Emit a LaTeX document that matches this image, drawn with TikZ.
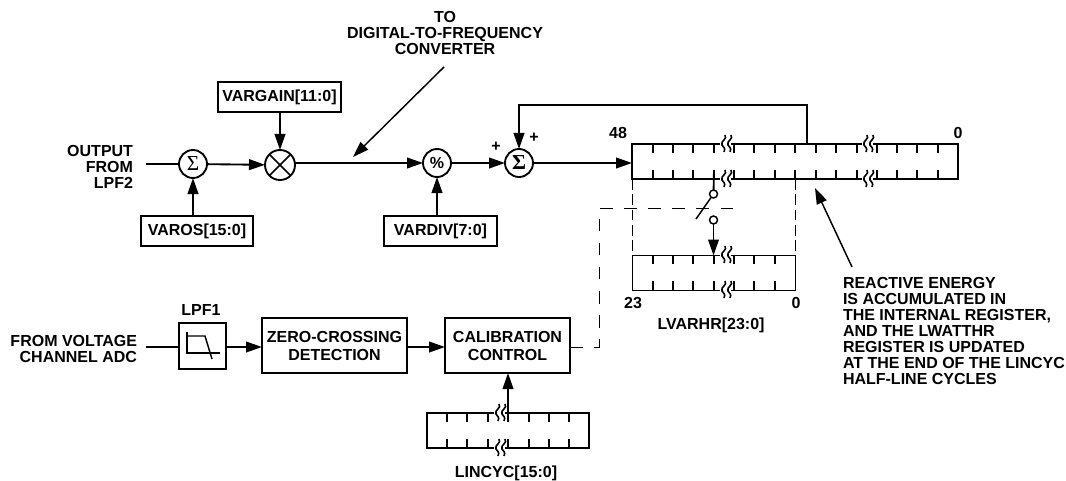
\documentclass[tikz,border=0pt]{standalone}
\usepackage{fontspec}
\setmainfont{Liberation Sans}
\newfontfamily\sumfont{Liberation Serif}
\usepackage{xcolor}
\usetikzlibrary{arrows.meta,calc}

\tikzset{
    lab/.style={inner sep=0pt, outer sep=0pt, font=\fontsize{12}{12}\selectfont\bfseries},
    wire/.style={line width=1.4pt},
    sig/.style={wire, -{Triangle[length=12pt,width=8pt]}},
    ctl/.style={line width=0.75pt, dash pattern=on 9.5pt off 8.6pt},
    sidedash/.style={line width=1.1pt, dash pattern=on 8pt off 3.5pt},
    box/.style={draw, line width=1.4pt, inner sep=0pt, outer sep=0pt, align=center,
        font=\fontsize{12}{13.5}\selectfont\bfseries},
    op/.style={circle, draw, line width=1.4pt, inner sep=0pt, outer sep=0pt, minimum size=21pt},
    contact/.style={circle, draw, line width=1.1pt, fill=white, inner sep=0pt, outer sep=0pt, minimum size=6pt},
    reg/.style={draw, line width=1.4pt, inner sep=0pt, outer sep=0pt},
    squig/.pic={
        \fill[white] (-4,-3) rectangle (7,3);
        \foreach \s in {0,6}
            \draw[line width=1.2pt] (\s+1,-9) .. controls (\s+4,-5) and (\s-4,-3) .. (\s-2,1)
                .. controls (\s-1,3) and (\s+2,4) .. (\s,8);
    }
}

\begin{document}
\begin{tikzpicture}[x=0.75pt, y=-0.75pt]
\useasboundingbox (0,0) rectangle (1066,481);

% top row
\node[lab, align=right, anchor=east] (outlab) at (133,166.5) {OUTPUT\\FROM\\LPF2};
\coordinate (outend) at (146,164);
\node[op, font=\fontsize{16}{16}\selectfont\sumfont] (suma) at (193,164) {Σ};
\node[op, minimum size=22.5pt] (mult) at (280,165) {};
\node[box, minimum width=92pt, minimum height=22.5pt] (vargain) at (279.5,97) {VARGAIN[11:0]};
\node[box, minimum width=84pt, minimum height=22.5pt] (varos) at (197,231) {VAROS[15:0]};
\node[op, font=\fontsize{12}{12}\selectfont\bfseries] (pct) at (437,163) {\%};
\node[box, minimum width=85pt, minimum height=22.5pt] (vardiv) at (440.5,231) {VARDIV[7:0]};
\node[op, font=\fontsize{16}{16}\selectfont\sumfont\bfseries] (sumb) at (519,163) {Σ};
\node[lab] (plusa) at (496,147) {+};
\node[lab] (plusb) at (534,138) {+};
\node[lab, align=center] (tolab) at (445,33) {TO\\DIGITAL-TO-FREQUENCY\\CONVERTER};
\coordinate (totail) at (444,67);
\coordinate (totip) at (353,157);

% internal register
\node[reg, minimum width=244.5pt, minimum height=26.25pt] (acc) at (795,161.5) {};
\node[lab] (msb) at (618,133) {48};
\node[lab] (lsb) at (958,133) {0};
\foreach \x in {653,673,693,714,734,754,775,795,816,836,857,877,897,917,938} {
    \draw[wire] (\x,144) -- (\x,153);
    \draw[wire] (\x,170) -- (\x,179);
}
\pic at (724,144) {squig};
\pic at (724,179) {squig};
\pic at (866,144) {squig};
\pic at (866,179) {squig};
\coordinate (fbk) at (807,144);
\coordinate (fbktop) at (807,105);

% LVARHR register
\node[reg, minimum width=122.25pt, minimum height=26.25pt] (lvar) at (714,273) {};
\foreach \x in {653,673,693,714,734,754,775} {
    \draw[wire] (\x,255) -- (\x,264);
    \draw[wire] (\x,281) -- (\x,290);
}
\pic at (724,255) {squig};
\pic at (724,290) {squig};
\node[lab] (lvarmsb) at (633,303) {23};
\node[lab] (lvarlsb) at (796,303) {0};
\node[lab] (lvarlab) at (711,325) {LVARHR[23:0]};

% switch
\coordinate (swin) at (714,170);
\node[contact] (swtop) at (713.5,194) {};
\node[contact] (swbot) at (713.5,220) {};
\coordinate (swblade) at (696,219);

% bottom row
\node[lab, align=right, anchor=east] (fromlab) at (137,349) {FROM VOLTAGE\\CHANNEL ADC};
\coordinate (fromend) at (146,347);
\node[lab] (lpflab) at (201,310) {LPF1};
\node[box, minimum width=35.5pt, minimum height=34.5pt] (lpf) at (202.75,346) {};
\node[box, minimum width=108.75pt, minimum height=41.25pt] (zero) at (334.5,345.5) {ZERO-CROSSING\\DETECTION};
\node[box, minimum width=93.75pt, minimum height=41.25pt] (calib) at (507.5,345.5) {CALIBRATION\\CONTROL};
\coordinate (ctlturn) at (599,208);
\coordinate (ctlend) at (733,208);

% LINCYC register
\node[reg, minimum width=121.5pt, minimum height=26.25pt] (linc) at (508,430.5) {};
\foreach \x in {447,467,488,508,529,549,569} {
    \draw[wire] (\x,413) -- (\x,422);
    \draw[wire] (\x,439) -- (\x,448);
}
\pic at (498,413) {squig};
\pic at (498,448) {squig};
\node[lab] (linclab) at (506,473) {LINCYC[15:0]};

\coordinate (reacttail) at (852,267);
\coordinate (reacttip) at (815,188);
\node[lab, align=left, anchor=west] (reactlab) at (843,331) {REACTIVE ENERGY\\IS ACCUMULATED IN\\THE INTERNAL REGISTER,\\AND THE LWATTHR\\REGISTER IS UPDATED\\AT THE END OF THE LINCYC\\HALF-LINE CYCLES};

% connectors
\draw[wire] (outend) -- (suma);
\draw[sig] (suma) -- (mult);
\draw[sig] (varos.north -| suma) -- (suma);
\draw[sig] (vargain.south -| mult) -- (mult);
\draw[line width=1.1pt] (mult.45) -- (mult.225);
\draw[line width=1.1pt] (mult.135) -- (mult.315);
\draw[sig] (mult.east |- pct) -- (pct);
\draw[sig] (vardiv.north -| pct) -- (pct);
\draw[sig] (pct) -- (sumb);
\draw[sig] (sumb) -- (acc.west |- sumb);
\draw[sig] (fbk) -- (fbktop) -| (sumb);
\draw[sig, line width=1.1pt] (totail) -- (totip);
\draw[sig, line width=1.1pt] (reacttail) -- (reacttip);
\draw[wire] (swin) -- (swtop);
\draw[line width=1.1pt] (swtop) -- (swblade);
\draw[sig] (swbot) -- (swbot |- lvar.north);
\draw[sidedash] (acc.south -| lvar.west) -- (lvar.north west);
\draw[sidedash] (acc.south -| lvar.east) -- (lvar.north east);
\draw[ctl] (calib.east |- fromend) -| (ctlturn) -- (ctlend);

\draw[wire] (fromend) -- (lpf.west |- fromend);
\draw[sig] (lpf.east |- fromend) -- (zero.west |- fromend);
\draw[sig] (zero.east |- fromend) -- (calib.west |- fromend);
\draw[sig] (linc.north) -- (calib.south -| linc.north);

% filter glyph
\draw[line width=1.1pt] (187,332) -- (187,353) -- (220,353);
\draw[line width=1.1pt] (187,336) -- (205,336) -- (212,359);
\end{tikzpicture}
\end{document}
